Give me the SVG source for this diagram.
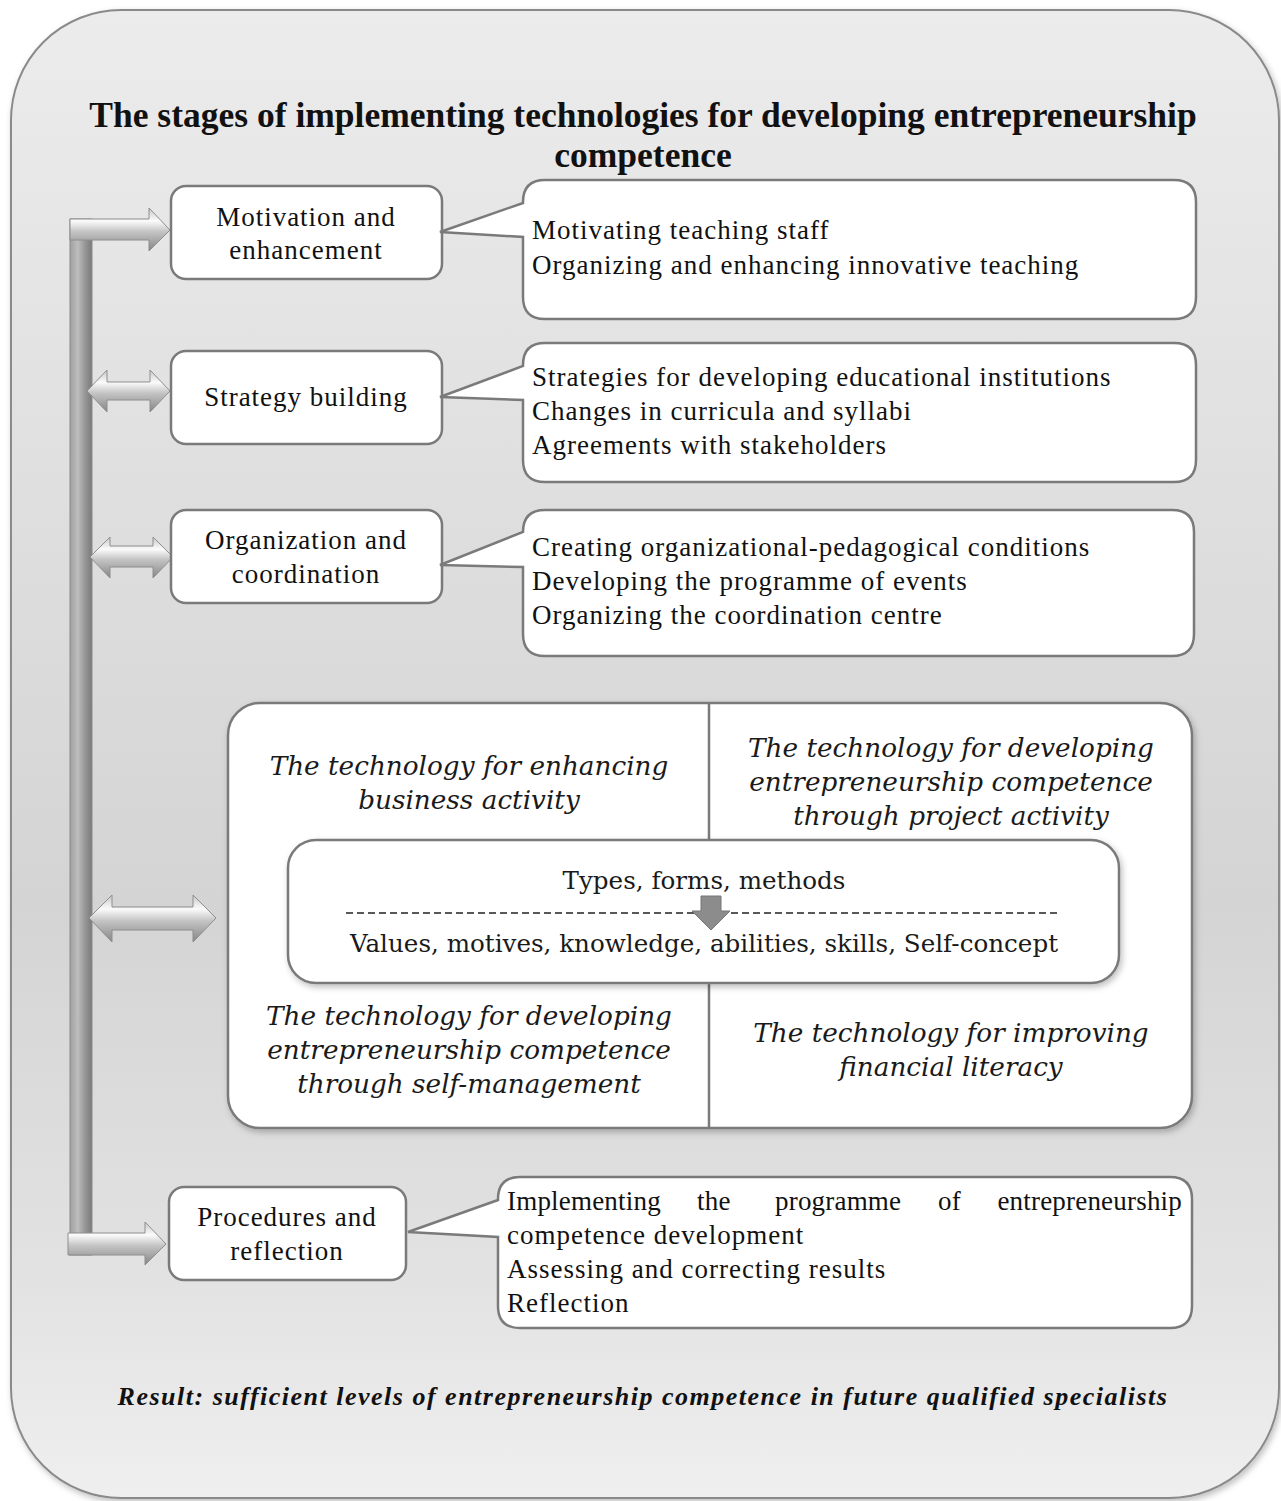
<svg xmlns="http://www.w3.org/2000/svg" width="1281" height="1501" viewBox="0 0 1281 1501">
<defs>
<linearGradient id="bg" x1="0" y1="0" x2="0" y2="1">
<stop offset="0" stop-color="#ececec"/>
<stop offset="0.35" stop-color="#dedede"/>
<stop offset="0.6" stop-color="#d4d4d4"/>
<stop offset="0.85" stop-color="#e2e2e2"/>
<stop offset="1" stop-color="#efefef"/>
</linearGradient>
<linearGradient id="hArrow" x1="0" y1="0" x2="0" y2="1">
<stop offset="0" stop-color="#c8c8c8"/>
<stop offset="0.3" stop-color="#fbfbfb"/>
<stop offset="0.55" stop-color="#c4c4c4"/>
<stop offset="1" stop-color="#868686"/>
</linearGradient>
<linearGradient id="vBar" x1="0" y1="0" x2="1" y2="0">
<stop offset="0" stop-color="#a0a0a0"/>
<stop offset="0.35" stop-color="#bdbdbd"/>
<stop offset="0.7" stop-color="#959595"/>
<stop offset="1" stop-color="#7a7a7a"/>
</linearGradient>
<filter id="sh" x="-5%" y="-5%" width="110%" height="115%">
<feDropShadow dx="2" dy="3" stdDeviation="3" flood-color="#000" flood-opacity="0.25"/>
</filter>
<style>
.box{fill:#fff;stroke:#7a7a7a;stroke-width:2.5}
.st{font-family:"Liberation Serif","Times New Roman",serif;font-size:27px;letter-spacing:1px;fill:#111;text-anchor:middle}
.ct{font-family:"Liberation Serif","Times New Roman",serif;font-size:27px;letter-spacing:1px;fill:#111}
.j{letter-spacing:0.2px}
.tech{font-family:"DejaVu Serif",serif;font-style:italic;font-size:26.3px;fill:#1a1a1a;text-anchor:middle}
.inn{font-family:"DejaVu Serif",serif;font-size:24.6px;fill:#1a1a1a;text-anchor:middle}
.ln{stroke:#7a7a7a;stroke-width:2.5;fill:none}
.arr{fill:url(#hArrow);stroke:#8e8e8e;stroke-width:1}
</style>
</defs>

<g id="frame">
<rect x="11" y="10" width="1268" height="1488" rx="110" ry="110" fill="url(#bg)" stroke="#8a8a8a" stroke-width="2" filter="url(#sh)"/>
</g>

<g id="title">
<text x="643" y="127" font-family="'Liberation Serif','Times New Roman',serif" font-weight="bold" font-size="35.5" text-anchor="middle" fill="#111">The stages of implementing technologies for developing entrepreneurship</text>
<text x="643" y="167" font-family="'Liberation Serif','Times New Roman',serif" font-weight="bold" font-size="35.5" text-anchor="middle" fill="#111">competence</text>
</g>

<g id="connectors">
<rect x="70" y="219" width="22" height="1036" fill="url(#vBar)" stroke="#8a8a8a" stroke-width="1"/>
<polygon class="arr" points="70,219 149,219 149,208 170,230 149,251 149,240 70,240"/>
<polygon class="arr" points="68,1233 145,1233 145,1222 166,1244 145,1265 145,1255 68,1255"/>
<polygon class="arr" points="87,391 107,370 107,382 150,382 150,370 170,391 150,412 150,400 107,400 107,412"/>
<polygon class="arr" points="90,557 110,537 110,546 153,546 153,537 173,557 153,578 153,567 110,567 110,578"/>
<polygon class="arr" points="89,918 112,895 112,907 193,907 193,895 216,918 193,942 193,930 112,930 112,942"/>
<line class="ln" x1="228" y1="917" x2="288" y2="917"/>
<line class="ln" x1="1119" y1="916" x2="1192" y2="916"/>
</g>

<g id="stage1">
<rect class="box" x="171" y="186" width="271" height="93" rx="15"/>
<text class="st" x="306" y="226">Motivation and</text>
<text class="st" x="306" y="259">enhancement</text>
</g>
<g id="stage2">
<rect class="box" x="171" y="351" width="271" height="93" rx="15"/>
<text class="st" x="306" y="406">Strategy building</text>
</g>
<g id="stage3">
<rect class="box" x="171" y="510" width="271" height="93" rx="15"/>
<text class="st" x="306" y="549">Organization and</text>
<text class="st" x="306" y="583">coordination</text>
</g>
<g id="stage4">
<rect class="box" x="169" y="1187" width="237" height="93" rx="15"/>
<text class="st" x="287" y="1226">Procedures and</text>
<text class="st" x="287" y="1260">reflection</text>
</g>

<g id="callout1">
<path class="box" d="M545,180 H1174 Q1196,180 1196,202 V297 Q1196,319 1174,319 H545 Q523,319 523,297 V237 L440,232 L523,203 V202 Q523,180 545,180 Z"/>
<text class="ct" x="532" y="239">Motivating teaching staff</text>
<text class="ct" x="532" y="274">Organizing and enhancing innovative teaching</text>
</g>
<g id="callout2">
<path class="box" d="M545,343 H1174 Q1196,343 1196,365 V460 Q1196,482 1174,482 H545 Q523,482 523,460 V400 L440,397 L523,366 V365 Q523,343 545,343 Z"/>
<text class="ct" x="532" y="386">Strategies for developing educational institutions</text>
<text class="ct" x="532" y="420">Changes in curricula and syllabi</text>
<text class="ct" x="532" y="454">Agreements with stakeholders</text>
</g>
<g id="callout3">
<path class="box" d="M545,510 H1172 Q1194,510 1194,532 V634 Q1194,656 1172,656 H545 Q523,656 523,634 V567 L440,565 L523,532 Q523,510 545,510 Z"/>
<text class="ct" x="532" y="556">Creating organizational-pedagogical conditions</text>
<text class="ct" x="532" y="590">Developing the programme of events</text>
<text class="ct" x="532" y="624">Organizing the coordination centre</text>
</g>
<g id="callout4">
<path class="box" d="M520,1177 H1170 Q1192,1177 1192,1199 V1306 Q1192,1328 1170,1328 H520 Q498,1328 498,1306 V1237 L408,1232 L498,1200 V1199 Q498,1177 520,1177 Z"/>
<text class="ct j" x="507" y="1210">Implementing</text>
<text class="ct j" x="697" y="1210">the</text>
<text class="ct j" x="775" y="1210">programme</text>
<text class="ct j" x="938" y="1210">of</text>
<text class="ct j" x="1182" y="1210" text-anchor="end">entrepreneurship</text>
<text class="ct" x="507" y="1244">competence development</text>
<text class="ct" x="507" y="1278">Assessing and correcting results</text>
<text class="ct" x="507" y="1312">Reflection</text>
</g>

<g id="technologies">
<rect class="box" x="228" y="703" width="964" height="425" rx="32" filter="url(#sh)"/>
<line class="ln" x1="709" y1="703" x2="709" y2="1128"/>
<text class="tech" x="469" y="775">The technology for enhancing</text>
<text class="tech" x="469" y="809">business activity</text>
<text class="tech" x="951" y="757">The technology for developing</text>
<text class="tech" x="951" y="791">entrepreneurship competence</text>
<text class="tech" x="951" y="825">through project activity</text>
<text class="tech" x="469" y="1025">The technology for developing</text>
<text class="tech" x="469" y="1059">entrepreneurship competence</text>
<text class="tech" x="469" y="1093">through self-management</text>
<text class="tech" x="951" y="1042">The technology for improving</text>
<text class="tech" x="951" y="1076">financial literacy</text>
</g>

<g id="core">
<rect class="box" x="288" y="840" width="831" height="143" rx="28" filter="url(#sh)"/>
<text class="inn" x="704" y="889">Types, forms, methods</text>
<line x1="346" y1="913" x2="1060" y2="913" stroke="#222" stroke-width="1.5" stroke-dasharray="7,4"/>
<polygon points="701,896 721,896 721,911 730,911 711,930 692,911 701,911" fill="#8c8c8c" stroke="#777" stroke-width="1"/>
<text class="inn" x="704" y="952">Values, motives, knowledge, abilities, skills, Self-concept</text>
</g>

<g id="result">
<text x="643" y="1405" font-family="'Liberation Serif','Times New Roman',serif" font-weight="bold" font-style="italic" font-size="26" letter-spacing="1.5" text-anchor="middle" fill="#111">Result: sufficient levels of entrepreneurship competence in future qualified specialists</text>
</g>
</svg>
